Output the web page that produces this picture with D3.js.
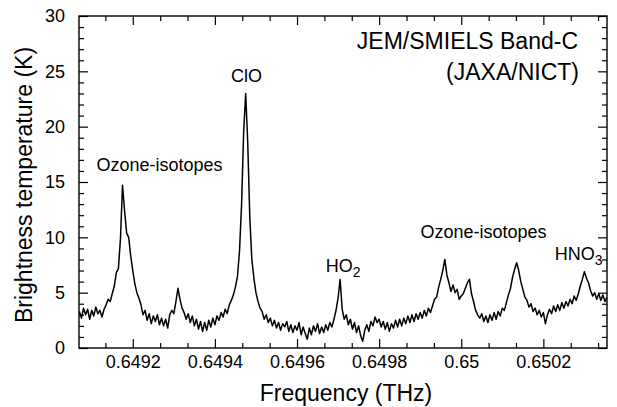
<!DOCTYPE html>
<html>
<head>
<meta charset="utf-8">
<script src="https://cdn.jsdelivr.net/npm/d3@7"></script>
<style>
  html, body { margin: 0; padding: 0; background: #fff; }
  svg { display: block; font-family: "Liberation Sans", Arial, Helvetica, sans-serif; }
</style>
</head>
<body>
<svg id="chart" width="617" height="407"></svg>
<script>
// ---- Data ----
const frequencies = [
  0.649070,0.649075,0.649080,0.649085,0.649090,0.649095,0.649100,0.649105,0.649110,0.649115,
  0.649120,0.649125,0.649130,0.649135,0.649140,0.649145,0.649150,0.649155,0.649160,0.649165,
  0.649170,0.649175,0.649180,0.649185,0.649190,0.649195,0.649200,0.649205,0.649210,0.649215,
  0.649220,0.649225,0.649230,0.649235,0.649240,0.649245,0.649250,0.649255,0.649260,0.649265,
  0.649270,0.649275,0.649280,0.649285,0.649290,0.649295,0.649300,0.649305,0.649310,0.649315,
  0.649320,0.649325,0.649330,0.649335,0.649340,0.649345,0.649350,0.649355,0.649360,0.649365,
  0.649370,0.649375,0.649380,0.649385,0.649390,0.649395,0.649400,0.649405,0.649410,0.649415,
  0.649420,0.649425,0.649430,0.649435,0.649440,0.649445,0.649450,0.649455,0.649460,0.649465,
  0.649470,0.649475,0.649480,0.649485,0.649490,0.649495,0.649500,0.649505,0.649510,0.649515,
  0.649520,0.649525,0.649530,0.649535,0.649540,0.649545,0.649550,0.649555,0.649560,0.649565,
  0.649570,0.649575,0.649580,0.649585,0.649590,0.649595,0.649600,0.649605,0.649610,0.649615,
  0.649620,0.649625,0.649630,0.649635,0.649640,0.649645,0.649650,0.649655,0.649660,0.649665,
  0.649670,0.649675,0.649680,0.649685,0.649690,0.649695,0.649700,0.649705,0.649710,0.649715,
  0.649720,0.649725,0.649730,0.649735,0.649740,0.649745,0.649750,0.649755,0.649760,0.649765,
  0.649770,0.649775,0.649780,0.649785,0.649790,0.649795,0.649800,0.649805,0.649810,0.649815,
  0.649820,0.649825,0.649830,0.649835,0.649840,0.649845,0.649850,0.649855,0.649860,0.649865,
  0.649870,0.649875,0.649880,0.649885,0.649890,0.649895,0.649900,0.649905,0.649910,0.649915,
  0.649920,0.649925,0.649930,0.649935,0.649940,0.649945,0.649950,0.649955,0.649960,0.649965,
  0.649970,0.649975,0.649980,0.649985,0.649990,0.649995,0.650000,0.650005,0.650010,0.650015,
  0.650020,0.650025,0.650030,0.650035,0.650040,0.650045,0.650050,0.650055,0.650060,0.650065,
  0.650070,0.650075,0.650080,0.650085,0.650090,0.650095,0.650100,0.650105,0.650110,0.650115,
  0.650120,0.650125,0.650130,0.650135,0.650140,0.650145,0.650150,0.650155,0.650160,0.650165,
  0.650170,0.650175,0.650180,0.650185,0.650190,0.650195,0.650200,0.650205,0.650210,0.650215,
  0.650220,0.650225,0.650230,0.650235,0.650240,0.650245,0.650250,0.650255,0.650260,0.650265,
  0.650270,0.650275,0.650280,0.650285,0.650290,0.650295,0.650300,0.650305,0.650310,0.650315,
  0.650320,0.650325,0.650330,0.650335,0.650340,0.650345,0.650350,0.650355
];
const brightnessTemps = [
  3.3,2.7,3.6,3.0,3.5,2.6,3.4,2.9,3.7,3.1,
  3.4,2.8,3.5,3.9,4.4,4.2,4.9,5.6,6.8,7.2,
  9.9,14.7,12.4,10.4,10.0,8.3,7.0,5.8,5.0,4.5,
  3.9,3.0,3.4,2.5,3.1,2.2,2.9,2.4,3.0,2.1,
  2.7,2.0,2.6,1.8,3.0,3.4,3.1,4.2,5.4,4.4,
  3.6,3.2,2.6,3.1,2.3,2.9,2.0,2.6,1.7,2.4,
  1.5,2.3,1.6,2.5,1.9,2.7,2.1,2.9,2.5,3.2,
  2.8,3.5,3.1,3.9,4.3,4.8,5.5,6.5,8.8,13.0,
  19.5,23.0,18.5,11.8,8.0,6.3,5.0,4.2,3.6,3.3,
  2.6,3.0,2.3,2.7,2.0,2.5,1.8,2.3,1.6,2.2,
  1.9,2.4,1.5,2.1,1.4,2.0,1.6,2.3,1.2,1.9,
  1.3,0.8,1.8,1.2,2.0,1.5,2.2,1.3,1.9,1.4,
  2.1,1.6,2.3,1.9,2.6,3.4,4.5,6.2,3.5,2.6,
  3.0,2.1,2.6,1.7,2.3,1.4,2.0,1.1,0.6,1.6,
  2.1,1.5,2.4,2.0,2.8,2.3,2.6,1.9,2.4,1.7,
  2.3,1.5,2.2,1.8,2.5,1.9,2.6,2.0,2.7,2.2,
  2.9,2.3,3.0,2.4,3.1,2.6,3.2,2.7,3.4,2.9,
  3.6,3.2,3.8,4.4,4.6,5.5,6.2,7.0,8.0,6.6,
  5.9,5.1,5.7,5.0,5.3,4.4,4.7,4.9,5.4,5.9,
  6.2,4.9,4.2,3.4,3.0,2.7,3.1,2.4,2.9,2.3,
  3.0,2.5,3.2,2.6,3.3,2.9,3.6,3.4,4.1,4.8,
  5.4,6.4,7.1,7.7,7.0,6.0,5.3,4.6,4.3,3.7,
  4.0,3.3,3.6,3.0,3.4,2.8,3.2,2.2,3.0,3.5,
  3.1,3.8,3.3,3.9,3.4,4.1,3.6,4.2,3.8,4.4,
  4.0,4.7,4.3,4.9,5.6,6.2,6.9,6.3,5.9,5.2,
  4.7,5.0,4.4,4.9,4.3,4.8,4.2,4.6
];
const xMajorTicks = [0.6492, 0.6494, 0.6496, 0.6498, 0.65, 0.6502];
const xTickLabels = ["0.6492", "0.6494", "0.6496", "0.6498", "0.65", "0.6502"];
const xMinorTicks = [0.6491333, 0.6492667, 0.6493333, 0.6494667, 0.6495333, 0.6496667,
                     0.6497333, 0.6498667, 0.6499333, 0.6500667, 0.6501333, 0.6502667, 0.6503333];
const yMajorTicks = [0, 5, 10, 15, 20, 25, 30];
const yTickLabels = ["0", "5", "10", "15", "20", "25", "30"];
const yMinorTicks = [1,2,3,4,6,7,8,9,11,12,13,14,16,17,18,19,21,22,23,24,26,27,28,29];
const xTitle = "Frequency (THz)";
const yTitle = "Brightness temperature (K)";
const annotations = [
  { text: "Ozone-isotopes", sub: "", f: 0.649265, t: 16.0, anchor: "middle", size: 18 },
  { text: "ClO", sub: "", f: 0.649477, t: 24.0, anchor: "middle", size: 18 },
  { text: "HO", sub: "2", f: 0.649670, t: 6.87, anchor: "start", size: 18 },
  { text: "Ozone-isotopes", sub: "", f: 0.650054, t: 9.94, anchor: "middle", size: 18 },
  { text: "HNO", sub: "3", f: 0.650228, t: 7.95, anchor: "start", size: 18 },
  { text: "JEM/SMIELS Band-C", sub: "", f: 0.6502844, t: 27.02, anchor: "end", size: 23 },
  { text: "(JAXA/NICT)", sub: "", f: 0.6502868, t: 24.22, anchor: "end", size: 23 }
];

// ---- Layout ----
const M = { left: 79, right: 607, top: 16, bottom: 348 };
const svg = d3.select("#chart");

const x = d3.scaleLinear().domain([0.649069, 0.650355]).range([M.left, M.right]);
const y = d3.scaleLinear().domain([0, 30]).range([M.bottom, M.top]);

svg.append("defs").append("clipPath").attr("id", "plotclip")
  .append("rect").attr("x", M.left).attr("y", M.top)
  .attr("width", M.right - M.left).attr("height", M.bottom - M.top);

// spectrum
const series = frequencies.map((f, i) => [f, brightnessTemps[i]]);
svg.append("path")
  .datum(series)
  .attr("clip-path", "url(#plotclip)")
  .attr("fill", "none")
  .attr("stroke", "#000")
  .attr("stroke-width", 1.5)
  .attr("stroke-linejoin", "round")
  .attr("d", d3.line().x(d => x(d[0])).y(d => y(d[1])));

// axes with inward ticks
function styleAxis(g) {
  g.select(".domain").remove();
  g.selectAll(".tick line").attr("stroke", "#000").attr("stroke-width", 1.2);
  g.selectAll("text").attr("fill", "#000").style("font-size", "18px")
    .style("font-family", '"Liberation Sans", Arial, sans-serif');
}
const MAJ = 9, MIN = 5;

svg.append("g").attr("transform", `translate(0,${M.bottom})`)
  .call(d3.axisBottom(x).tickValues(xMajorTicks).tickSize(-MAJ).tickSizeOuter(0).tickPadding(7)
    .tickFormat((d, i) => xTickLabels[i]))
  .call(styleAxis);
svg.append("g").attr("transform", `translate(0,${M.bottom})`)
  .call(d3.axisBottom(x).tickValues(xMinorTicks).tickSize(-MIN).tickSizeOuter(0).tickFormat(""))
  .call(styleAxis);
svg.append("g").attr("transform", `translate(0,${M.top})`)
  .call(d3.axisTop(x).tickValues(xMajorTicks).tickSize(-MAJ).tickSizeOuter(0).tickFormat(""))
  .call(styleAxis);
svg.append("g").attr("transform", `translate(0,${M.top})`)
  .call(d3.axisTop(x).tickValues(xMinorTicks).tickSize(-MIN).tickSizeOuter(0).tickFormat(""))
  .call(styleAxis);

svg.append("g").attr("transform", `translate(${M.left},0)`)
  .call(d3.axisLeft(y).tickValues(yMajorTicks).tickSize(-MAJ).tickSizeOuter(0).tickPadding(14)
    .tickFormat((d, i) => yTickLabels[i]))
  .call(styleAxis);
svg.append("g").attr("transform", `translate(${M.left},0)`)
  .call(d3.axisLeft(y).tickValues(yMinorTicks).tickSize(-MIN).tickSizeOuter(0).tickFormat(""))
  .call(styleAxis);
svg.append("g").attr("transform", `translate(${M.right},0)`)
  .call(d3.axisRight(y).tickValues(yMajorTicks).tickSize(-MAJ).tickSizeOuter(0).tickFormat(""))
  .call(styleAxis);
svg.append("g").attr("transform", `translate(${M.right},0)`)
  .call(d3.axisRight(y).tickValues(yMinorTicks).tickSize(-MIN).tickSizeOuter(0).tickFormat(""))
  .call(styleAxis);

// frame
svg.append("rect")
  .attr("x", M.left).attr("y", M.top)
  .attr("width", M.right - M.left).attr("height", M.bottom - M.top)
  .attr("fill", "none").attr("stroke", "#000").attr("stroke-width", 1.4);

// axis titles
svg.append("text")
  .attr("x", (M.left + M.right) / 2 + 3).attr("y", 401)
  .attr("text-anchor", "middle").style("font-size", "23px").attr("fill", "#000")
  .text(xTitle);
svg.append("text")
  .attr("transform", `translate(32,${(M.top + M.bottom) / 2 + 3}) rotate(-90)`)
  .attr("text-anchor", "middle").style("font-size", "23px").attr("fill", "#000")
  .text(yTitle);

// annotations
annotations.forEach(a => {
  const t = svg.append("text")
    .attr("x", x(a.f)).attr("y", y(a.t))
    .attr("text-anchor", a.anchor)
    .style("font-size", a.size + "px").attr("fill", "#000");
  t.append("tspan").text(a.text);
  if (a.sub) {
    t.append("tspan").attr("dy", 5).style("font-size", "14px").text(a.sub);
  }
});
</script>
</body>
</html>
